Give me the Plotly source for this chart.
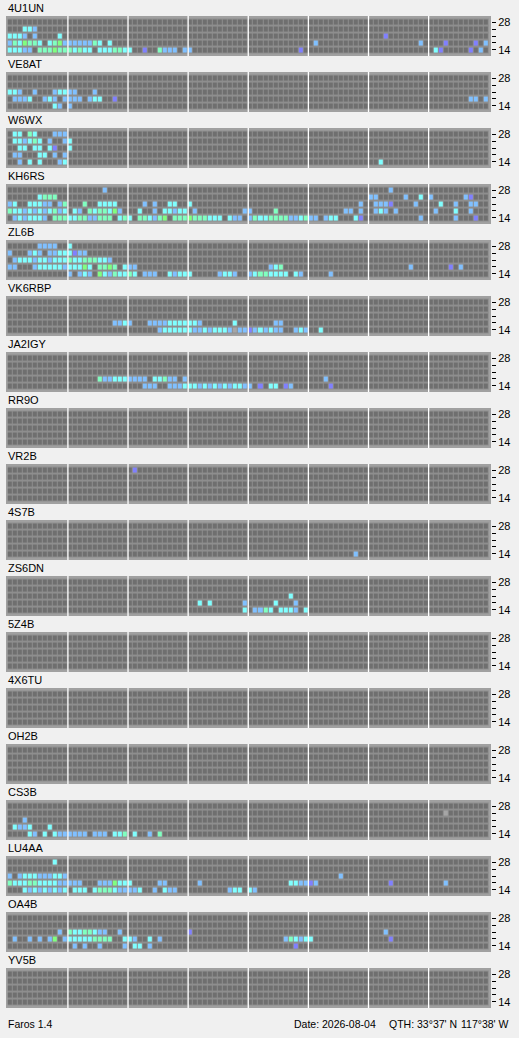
import plotly.graph_objs as go

# band rows, listed top to bottom as drawn
BANDS = ['28', '24', '21', '18', '14']
N_SLOTS = 96  # 15 minute slots over 24 h

# cell codes -> colours ('.' no spot, 'x' grey spot, b/c/a/g/p signal levels)
CODES = ['.', 'x', 'b', 'c', 'a', 'g', 'p']
COLORS = ['#6f6f6f', '#a6a6a6', '#80c0ff', '#80ffff', '#80ffc0', '#80ff80', '#8080ff']

STATIONS = ['4U1UN', 'VE8AT', 'W6WX', 'KH6RS', 'ZL6B', 'VK6RBP', 'JA2IGY', 'RR9O', 'VR2B',
            '4S7B', 'ZS6DN', '5Z4B', '4X6TU', 'OH2B', 'CS3B', 'LU4AA', 'OA4B', 'YV5B']

# spots per band as "slot+code" tokens, bands 28, 24, 21, 18, 14
SPOTS_4U1UN = [
    '',
    '3c 4c 5b',
    '0c 1c 2c 3b 5b 10c 75p',
    '0b 1a 2c 3g 4a 5a 6c 8c 9a 10g 11b 12b 13b 14b 15b 16b 17a 18c 20c 61b 82b 87p 93p 95b',
    '0c 1c 2c 3b 4b 6a 7a 8a 9g 10a 11a 12a 13c 14a 15c 16c 18c 19c 20c 21a 22a 23c 24c 27p '
    '30a 31b 32b 33b 35b 36b 58p 85c 86p 92p 94b',
]
SPOTS_VE8AT = [
    '',
    '',
    '0c 1c 2b 5b 9b 10c 11c 12b 13b 17b',
    '1b 2b 3b 4c 7b 8c 9b 11b 12b 13b 14b 16b 17c 18c 21p 92b 93b 95b',
    '9c 10b 12b',
]
SPOTS_W6WX = [
    '1c 2c 4a 5c 9b 10b 11b',
    '1c 2c 3b 4c 5a 6c 8b 11b 12c',
    '2c 3c 5c 6c 8c 9p 12c',
    '1b 2b 6c 7c 9b 11b',
    '2b 4c 6c 10b 11c 74c',
]
SPOTS_KH6RS = [
    '19b 76b',
    '6c 7a 8a 9a 72b 73b 79b 82c 84b 91b 92p',
    '0b 1c 4c 5c 6c 7b 8b 10b 11a 15a 18c 19c 20c 21c 27b 29b 32c 33c 36c '
    '70b 73b 74b 75b 76p 81b 86c 89b 92b 93b',
    '0a 1c 2c 3b 4c 5b 6c 7b 8c 9a 10b 11c 13c 14b 16a 17c 18a 19a 20c 21g 22b 26c 29b 31c 32c '
    '33b 34c 35c 37b 47b 48b 53a 67b 68b 70b 73b 74c 75b 77b 85b 89c 92b',
    '1b 2c 3b 4c 5c 6c 7b 9a 10a 11a 12c 13c 14a 15a 16b 17b 18a 19a 20a 22c 23a 24c 26a 27a '
    '28c 29b 30a 31g 33a 34a 35a 36g 37a 38a 39a 40c 41c 42c 44c 45b 46b 48b 49a 50c 51c 52a '
    '53a 54a 55a 56b 57b 58c 59a 60b 61b 63b 64c 65c 69c 70p 82b 89b 93p',
]
SPOTS_ZL6B = [
    '6b 7b 8b 9b 12c',
    '0b 4b 5c 6b 8b 9b 10c 11c 12c 13p 14b 15b',
    '1b 2c 3c 4c 5b 6c 7c 8b 9c 10c 11c 12a 13c 14c 15a 16a 17a 18c 19c 20b',
    '0b 1b 5b 6c 7c 8c 9c 10c 11b 12c 13c 14c 15g 16c 18a 19a 20g 21a 23c 24b 25b '
    '52b 53c 54a 80b 88p 90b',
    '12b 14b 15c 16b 18g 19c 20b 21a 22c 23c 24a 25c 27b 28b 29b 32c 33b 34c 35c 36c '
    '42b 43c 44c 45b 48b 49c 50a 51a 52c 53c 54c 55c 57c 58b 64b',
]
SPOTS_VK6RBP = [
    '',
    '',
    '',
    '21b 22b 23c 24b 28b 29b 30b 31b 32c 33c 34c 35c 36c 37c 38b 45c 53b 54b',
    '30b 31c 32c 33c 34c 35c 36c 37b 38b 39c 40b 41c 42c 43c 44b 45x 46b 47b 48p 49b '
    '50c 51b 52c 53b 54b 57b 58c 59b 62c',
]
SPOTS_JA2IGY = [
    '',
    '',
    '',
    '18a 19b 20b 21c 22c 23c 24b 25b 26b 27b 29c 30c 31a 32b 33b 35b 63b',
    '27b 28b 29b 32b 33b 34b 35c 36c 37c 38b 39c 40b 41c 42b 43c 44b 45c 46c 47b 48b '
    '50p 52c 53c 55p 56b 64p',
]
SPOTS_RR9O = ['', '', '', '', '']
SPOTS_VR2B = ['25p', '', '', '', '']
SPOTS_4S7B = ['', '', '', '', '69b']
SPOTS_ZS6DN = [
    '',
    '',
    '56c',
    '38c 40c 47b 53c 57b',
    '47c 49b 50b 51a 52c 54c 55c 56c 57b 59c',
]
SPOTS_5Z4B = ['', '', '', '', '']
SPOTS_4X6TU = ['', '', '', '', '']
SPOTS_OH2B = ['', '', '', '', '']
SPOTS_CS3B = [
    '',
    '87x',
    '3b',
    '1c 2b 3b 4c 8c',
    '4c 5b 7c 9c 10b 11b 12b 13b 14b 15b 17b 18b 19b 21c 22c 23a 25c 28b 30a',
]
SPOTS_LU4AA = [
    '9c',
    '',
    '0b 2b 3c 4c 5c 6b 7b 8b 9c 10c 11b 66b',
    '0a 1c 2c 3c 4a 5a 6c 7c 8c 9c 10b 11b 12b 13b 14b 18b 19b 20b 21g 22c 23c 24c 30b 31b '
    '38b 56c 57c 58b 59b 60p 61b 76p 87b',
    '3c 4b 5c 6b 7c 8b 9c 10b 11c 13c 14c 15c 17c 18a 19a 20a 21c 22b 23b 24b 25b 26c 29b '
    '31c 32b 33b 44b 45c 46c 48c 49b',
]
SPOTS_OA4B = [
    '',
    '',
    '10b 12a 13c 14c 15a 16a 17c 18b 19b 22b 36p 75b',
    '1b 4b 6b 8b 9g 11b 12c 13c 14c 15c 16c 17a 18a 19a 20a 23c 24c 25b 28c 30b '
    '55b 56a 57c 58b 59c 60c 76p',
    '13b 15b 18b 23b 25c 26c 28b 57p',
]
SPOTS_YV5B = ['', '', '', '', '']

SPOTS = [SPOTS_4U1UN, SPOTS_VE8AT, SPOTS_W6WX, SPOTS_KH6RS, SPOTS_ZL6B, SPOTS_VK6RBP,
         SPOTS_JA2IGY, SPOTS_RR9O, SPOTS_VR2B, SPOTS_4S7B, SPOTS_ZS6DN, SPOTS_5Z4B,
         SPOTS_4X6TU, SPOTS_OH2B, SPOTS_CS3B, SPOTS_LU4AA, SPOTS_OA4B, SPOTS_YV5B]

FOOTER_LEFT = 'Faros 1.4'
FOOTER_DATE = 'Date: 2026-08-04'
FOOTER_QTH = "QTH: 33°37' N"
FOOTER_LON = "117°38' W"

W, H = 519, 1038
BOX_L, BOX_R = 6, 491
BOX_TOP0, BOX_H, PITCH = 16, 40, 56
X_RANGE = [-0.86, 95.95]
Y_RANGE = [-0.86, 4.86]
FONT = 'Liberation Sans'


def _to_matrix(rows):
    # rows are given top (28) to bottom (14); heatmap row 0 is the bottom band
    z = []
    for row in reversed(rows):
        line = [0] * N_SLOTS
        for tok in row.split():
            line[int(tok[:-1])] = CODES.index(tok[-1])
        z.append(line)
    return z


def _colorscale():
    n = len(COLORS)
    scale = []
    for i, c in enumerate(COLORS):
        scale.append([i / n, c])
        scale.append([(i + 1) / n, c])
    return scale


traces = []
layout = go.Layout(
    width=W, height=H,
    margin=dict(l=0, r=0, t=0, b=0),
    paper_bgcolor='#f0f0f0',
    plot_bgcolor='#a0a0a0',
    showlegend=False,
    template='none',
    font=dict(family=FONT, size=11, color='#000000'),
)
shapes = []
annotations = []

for i, (name, rows) in enumerate(zip(STATIONS, SPOTS)):
    n = '' if i == 0 else str(i + 1)
    top = BOX_TOP0 + PITCH * i
    traces.append(go.Heatmap(
        z=_to_matrix(rows), x=list(range(N_SLOTS)), y=list(range(len(BANDS))),
        colorscale=_colorscale(), zmin=-0.5, zmax=len(COLORS) - 0.5,
        showscale=False, xgap=1, ygap=2, hoverinfo='skip',
        xaxis='x' + n, yaxis='y' + n,
    ))
    layout['xaxis' + n] = dict(
        domain=[BOX_L / W, BOX_R / W], range=X_RANGE, anchor='y' + n,
        showgrid=False, zeroline=False, showticklabels=False, ticks='', fixedrange=True,
    )
    layout['yaxis' + n] = dict(
        domain=[1 - (top + BOX_H) / H, 1 - top / H], range=Y_RANGE, anchor='x' + n,
        side='right', tickvals=list(range(len(BANDS))),
        ticktext=[b if b in ('14', '28') else '' for b in reversed(BANDS)],
        ticks='outside', ticklen=4, tickwidth=1, tickcolor='#000000',
        tickfont=dict(family=FONT, size=11, color='#000000'),
        showgrid=False, zeroline=False, showline=False, automargin=False, fixedrange=True,
    )
    xr, yr = 'x' + n, 'y' + n
    shapes.append(dict(type='rect', xref=xr, yref=yr, x0=-0.5, x1=N_SLOTS - 0.5,
                       y0=-0.5, y1=len(BANDS) - 0.5, fillcolor='#8e8e8e',
                       line=dict(width=0), layer='below'))
    # white separators every 3 hours
    for k in range(12, N_SLOTS, 12):
        shapes.append(dict(type='line', xref=xr, yref=yr, x0=k - 0.5, x1=k - 0.5,
                           y0=Y_RANGE[0], y1=Y_RANGE[1],
                           line=dict(color='#ffffff', width=1.3)))
    annotations.append(dict(text=name, xref='paper', yref='paper', x=BOX_L / W,
                            y=1 - (top - 8) / H, xanchor='left', yanchor='middle',
                            showarrow=False, font=dict(family=FONT, size=11)))

foot_y = 1 - 1024 / H
for text, x in [(FOOTER_LEFT, 6), (FOOTER_DATE, 292), (FOOTER_QTH, 387), (FOOTER_LON, 459)]:
    annotations.append(dict(text=text, xref='paper', yref='paper', x=x / W, y=foot_y,
                            xanchor='left', yanchor='middle', showarrow=False,
                            font=dict(family=FONT, size=10.5)))

layout['shapes'] = shapes
layout['annotations'] = annotations

fig = go.Figure(data=traces, layout=layout)
# drop the page margin so the 519x1038 figure fills the window exactly
fig.write_html("out.html", config={'displayModeBar': False},
               post_script="document.body.style.margin='0';document.body.style.overflow='hidden';")
